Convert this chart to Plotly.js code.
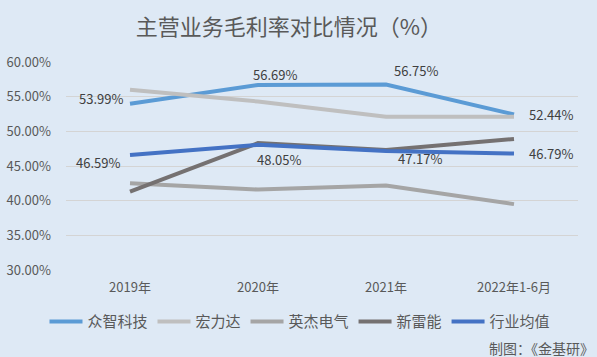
<!DOCTYPE html>
<html>
<head>
<meta charset="utf-8">
<script src="https://cdn.plot.ly/plotly-3.0.1.min.js"></script>
<style>html,body{margin:0;padding:0;background:#dee9f5;}#chart{width:597px;height:357px;}</style>
</head>
<body>
<div id="chart"></div>
<script>
// ---- data ----
var categories = ["2019年", "2020年", "2021年", "2022年1-6月"];
var seriesNames = ["众智科技", "宏力达", "英杰电气", "新雷能", "行业均值"];
var zhongzhi = [53.99, 56.69, 56.75, 52.44];
var honglida = [56.0, 54.3, 52.1, 52.1];
var yingjie = [42.5, 41.6, 42.2, 39.5];
var xinleineng = [41.3, 48.3, 47.3, 48.9];
var industryAvg = [46.59, 48.05, 47.17, 46.79];
var yTicks = [30, 35, 40, 45, 50, 55, 60];
var titleText = "主营业务毛利率对比情况（%）";
var sourceText = "制图：《金基研》";

// ---- styles ----
var colors = ["#5b9bd5", "#bfbfbf", "#a5a5a5", "#757171", "#4472c4"];
var allSeries = [zhongzhi, honglida, yingjie, xinleineng, industryAvg];
var FONT = '"Noto Sans CJK SC", "Noto Sans", sans-serif';

var traces = allSeries.map(function (vals, i) {
  return {
    type: "scatter", mode: "lines", name: seriesNames[i],
    x: categories, y: vals,
    line: {color: colors[i], width: 4, shape: "linear"},
    hoverinfo: "skip"
  };
});

// label placement (pixel offsets): [xanchor, xshift, yshift]
var zzPlace = [["right", -5, 5], ["left", -7, 10], ["left", 6, 14], ["left", 13, 0]];
var avgPlace = [["right", -8, -8], ["left", -3, -15], ["left", 10, -8], ["left", 13, 0]];

var annotations = [];
function addLabels(vals, place) {
  vals.forEach(function (v, i) {
    annotations.push({
      x: i, y: v, xref: "x", yref: "y",
      text: v.toFixed(2) + "%", showarrow: false,
      xanchor: place[i][0], yanchor: "middle",
      xshift: place[i][1], yshift: place[i][2],
      font: {family: FONT, size: 13, color: "#404040"}
    });
  });
}
addLabels(zhongzhi, zzPlace);
addLabels(industryAvg, avgPlace);

annotations.push({
  text: sourceText, showarrow: false,
  xref: "paper", yref: "paper", x: 1.0346, y: -0.3736,
  xanchor: "right", yanchor: "middle",
  font: {family: FONT, size: 14, color: "#595959"}
});

var layout = {
  width: 597, height: 357,
  paper_bgcolor: "#dee9f5", plot_bgcolor: "#dee9f5",
  margin: {l: 66, r: 19, t: 62, b: 87, autoexpand: false},
  font: {family: FONT, color: "#595959"},
  title: {
    text: titleText, xref: "container", yref: "container",
    x: 0.484, xanchor: "center", y: 0.924, yanchor: "middle",
    font: {family: FONT, size: 22, color: "#595959"}
  },
  xaxis: {
    type: "category", range: [-0.5, 3.5], tickangle: 0, automargin: false,
    showgrid: false, zeroline: false, showline: false,
    ticks: "", ticklabelstandoff: 8,
    tickfont: {family: FONT, size: 13, color: "#595959"}
  },
  yaxis: {
    range: [30, 60], tickvals: yTicks, automargin: false,
    ticktext: yTicks.map(function (t) { return t.toFixed(2) + "%"; }),
    showgrid: true, gridcolor: "#d4d4d4", gridwidth: 1,
    zeroline: false, showline: false, ticks: "", ticklabelstandoff: 14,
    tickfont: {family: FONT, size: 13, color: "#595959"}
  },
  showlegend: true,
  legend: {
    orientation: "h", x: 0.5025, xref: "container", xanchor: "center",
    y: -0.249, yref: "paper", yanchor: "middle", itemwidth: 33,
    font: {family: FONT, size: 15, color: "#595959"},
    bgcolor: "rgba(0,0,0,0)", itemclick: false, itemdoubleclick: false
  },
  annotations: annotations
};

Plotly.newPlot("chart", traces, layout, {staticPlot: true, displayModeBar: false});
</script>
</body>
</html>
